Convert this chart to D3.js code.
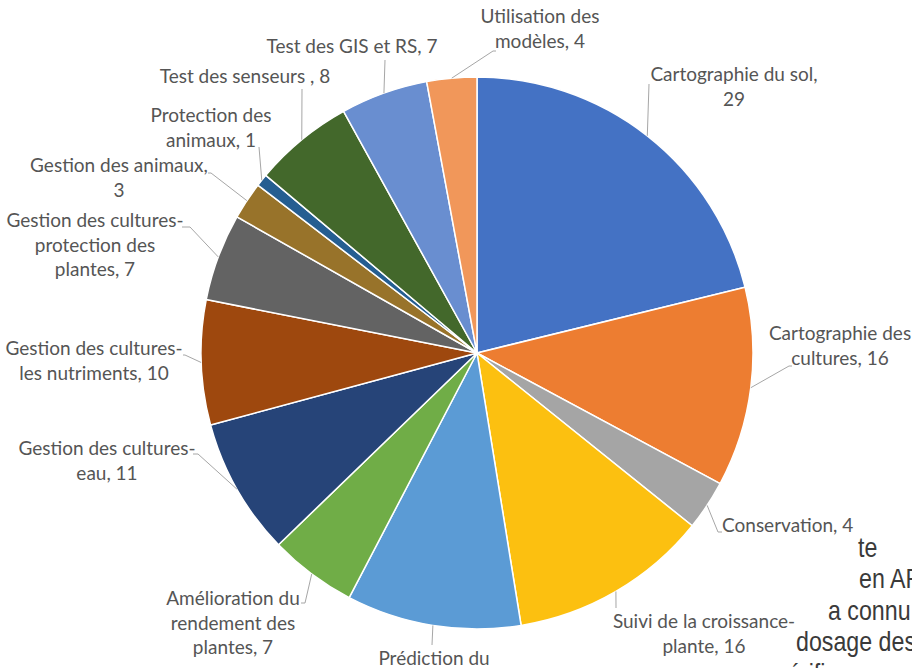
<!DOCTYPE html>
<html>
<head>
<meta charset="utf-8">
<script src="https://cdn.jsdelivr.net/npm/d3@7"></script>
<style>
  html, body { margin: 0; padding: 0; background: #fff; overflow: hidden; }
  svg { display: block; }
</style>
</head>
<body>
<div id="chart"></div>
<script>
// slices, clockwise from 12 o'clock
const categories = [
  "Cartographie du sol", "Cartographie des cultures", "Conservation",
  "Suivi de la croissance-plante", "Prédiction du rendement", "Amélioration du rendement des plantes",
  "Gestion des cultures-eau", "Gestion des cultures-les nutriments",
  "Gestion des cultures-protection des plantes", "Gestion des animaux",
  "Protection des animaux", "Test des senseurs", "Test des GIS et RS", "Utilisation des modèles"
];
const values = [29, 16, 4, 16, 14, 7, 11, 10, 7, 3, 1, 8, 7, 4];
// label text as shown, line by line
const labelLines = [
  ["Cartographie du sol,", "29"],
  ["Cartographie des", "cultures, 16"],
  ["Conservation, 4"],
  ["Suivi de la croissance-", "plante, 16"],
  ["Prédiction du", "rendement, 14"],
  ["Amélioration du", "rendement des", "plantes, 7"],
  ["Gestion des cultures-", "eau, 11"],
  ["Gestion des cultures-", "les nutriments, 10"],
  ["Gestion des cultures-", "protection des", "plantes, 7"],
  ["Gestion des animaux,", "3"],
  ["Protection des", "animaux, 1"],
  ["Test des senseurs , 8"],
  ["Test des GIS et RS, 7"],
  ["Utilisation des", "modèles, 4"]
];
const colors = ["#4472C4", "#ED7D31", "#A5A5A5", "#FCC010", "#5B9BD5", "#70AD47",
  "#264478", "#9E480E", "#636363", "#98732A", "#255E91", "#43682B", "#698ED0", "#F1975A"];

// label placement: text centre x, first baseline y, leader end point, text anchor
const labelPos = [
  { x: 734, y: 81, lx: 649, ly: 84, anchor: "middle" },
  { x: 840, y: 340, lx: 789, ly: 366, hx: 792, anchor: "middle" },
  { x: 722, y: 532, lx: 718, ly: 532, hx: 722, anchor: "start" },
  { x: 704, y: 628, lx: 616, ly: 608, anchor: "middle" },
  { x: 434, y: 665, lx: 432, ly: 645, anchor: "middle" },
  { x: 233, y: 605, lx: 305, ly: 603, hx: 301, anchor: "middle" },
  { x: 107, y: 455, lx: 198, ly: 454, hx: 193, anchor: "middle" },
  { x: 94, y: 355, lx: 185, ly: 355, hx: 183, anchor: "middle" },
  { x: 95, y: 227, lx: 190, ly: 227, hx: 182, anchor: "middle" },
  { x: 119, y: 172, lx: 211, ly: 173, hx: 208, anchor: "middle" },
  { x: 211, y: 122, lx: 259, ly: 147, anchor: "middle" },
  { x: 245, y: 83, lx: 302, ly: 89, anchor: "middle" },
  { x: 352, y: 53, lx: 385, ly: 60, anchor: "middle" },
  { x: 540, y: 23, lx: 493, ly: 51, hx: 496, anchor: "middle" }
];

// fragments of the page text behind the chart (cut at the right edge)
const bgLines = ["te", "en AR", "a  connu", "dosage des", "érifi"];
const bgPos = [[858, 557], [859, 588], [828, 620], [796, 651], [788, 683]];

const W = 912, H = 668;
const cx = 477, cy = 353, R = 276;
const lineH = 24.5;

const svg = d3.select("#chart").append("svg")
  .attr("width", W).attr("height", H);

// background text fragments
const bg = svg.append("g");
bgLines.forEach((t, i) => {
  bg.append("text")
    .attr("transform", `translate(${bgPos[i][0]},${bgPos[i][1]}) scale(0.86,1)`)
    .attr("font-family", "Liberation Sans, Arial, sans-serif")
    .attr("font-size", 27)
    .attr("fill", "#3a3a3a")
    .text(t);
});

const pie = d3.pie().sort(null).value(d => d).startAngle(0).endAngle(2 * Math.PI);
const arcs = pie(values);
const arc = d3.arc().innerRadius(0).outerRadius(R);

const g = svg.append("g").attr("transform", `translate(${cx},${cy})`);
g.selectAll("path.slice")
  .data(arcs)
  .join("path")
  .attr("class", "slice")
  .attr("d", arc)
  .attr("fill", (d, i) => colors[i])
  .attr("stroke", "#fff")
  .attr("stroke-width", 1.5)
  .attr("stroke-linejoin", "round");

// leader lines from the middle of each slice's outer edge
const leaders = svg.append("g");
arcs.forEach((d, i) => {
  const a = (d.startAngle + d.endAngle) / 2;
  const sx = cx + R * Math.sin(a), sy = cy - R * Math.cos(a);
  const p = labelPos[i];
  const pts = [[sx, sy], [p.lx, p.ly]];
  if (p.hx !== undefined) pts.push([p.hx, p.ly]);
  leaders.append("path")
    .attr("d", d3.line()(pts))
    .attr("fill", "none")
    .attr("stroke", "#a6a6a6")
    .attr("stroke-width", 1);
});

// labels
const labels = svg.append("g")
  .attr("font-family", "Lato, 'Noto Sans', sans-serif")
  .attr("font-size", 19)
  .attr("fill", "#555555");
labelLines.forEach((lines, i) => {
  const p = labelPos[i];
  const t = labels.append("text").attr("text-anchor", p.anchor);
  lines.forEach((ln, j) => {
    t.append("tspan").attr("x", p.x).attr("y", p.y + j * lineH).text(ln);
  });
});
</script>
</body>
</html>
